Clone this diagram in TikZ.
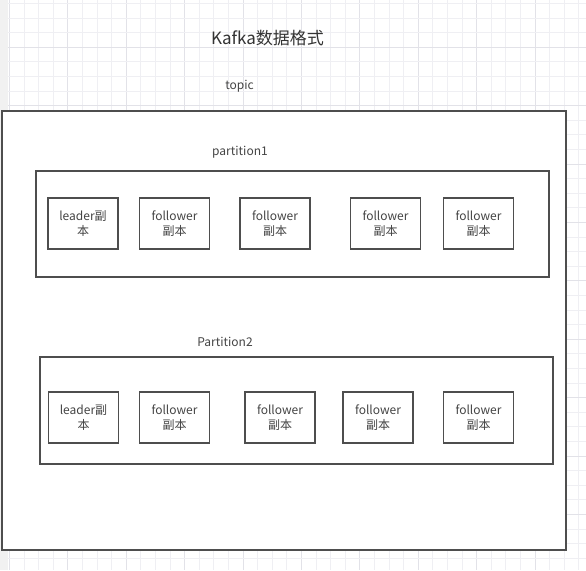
\documentclass[tikz,border=0pt]{standalone}
\usepackage{fontspec}
\setmainfont{Noto Sans CJK SC}
\definecolor{linec}{HTML}{4E4E4E}
\definecolor{textc}{HTML}{444444}
\definecolor{titlec}{HTML}{333333}
\definecolor{gridminor}{HTML}{EFEFF3}
\definecolor{gridmajor}{HTML}{E2E2E8}
\definecolor{stripc}{HTML}{F1F1F1}
\begin{document}
\begin{tikzpicture}[x=1pt,y=-1pt,
  frame/.style={draw=linec,line width=1.5pt,fill=white,inner sep=0pt},
  replica/.style={draw=linec,line width=1.5pt,fill=white,inner sep=0pt,
    minimum width=70pt,minimum height=51pt,align=center,text=textc,
    font=\fontsize{12}{15.5}\selectfont},
  lbl/.style={text=textc,inner sep=0pt,font=\fontsize{12}{14}\selectfont}]
\useasboundingbox (0,0) rectangle (586,570);
\fill[white] (0,0) rectangle (586,570);
% grid
\foreach \k in {0,...,39}{
  \pgfmathtruncatemacro\m{mod(\k,4)}
  \ifnum\m=0
    \draw[gridmajor,line width=0.8pt] ({9.3+14.6*\k},0) -- ({9.3+14.6*\k},570);
  \else
    \draw[gridminor,line width=0.8pt] ({9.3+14.6*\k},0) -- ({9.3+14.6*\k},570);
  \fi}
\foreach \k in {0,...,38}{
  \pgfmathtruncatemacro\m{mod(\k,4)}
  \ifnum\m=3
    \draw[gridmajor,line width=0.8pt] (0,{3.3+14.6*\k}) -- (586,{3.3+14.6*\k});
  \else
    \draw[gridminor,line width=0.8pt] (0,{3.3+14.6*\k}) -- (586,{3.3+14.6*\k});
  \fi}
\fill[stripc] (0,0) rectangle (8,570);
% title
\node[text=titlec,inner sep=0pt,font=\fontsize{17}{20}\selectfont] (title) at (267.5,38) {Kafka数据格式};
\node[lbl] (topiclbl) at (239.5,86) {topic};
% outer topic frame
\node[frame,minimum width=564pt,minimum height=439pt] (topic) at (284,330.5) {};
% partition 1
\node[lbl] (p1lbl) at (240,152) {partition1};
\node[frame,minimum width=513pt,minimum height=106pt] (p1) at (292.5,224) {};
\node[replica] (p1a) at (83,223.5) {leader副\\本};
\node[replica] (p1b) at (174.5,223.5) {follower\\副本};
\node[replica] (p1c) at (275,223.5) {follower\\副本};
\node[replica] (p1d) at (385.5,223.5) {follower\\副本};
\node[replica] (p1e) at (478.5,223.5) {follower\\副本};
% partition 2
\node[lbl] (p2lbl) at (225,342) {Partition2};
\node[frame,minimum width=513pt,minimum height=107pt] (p2) at (296.5,410.5) {};
\node[replica] (p2a) at (83.5,417.5) {leader副\\本};
\node[replica] (p2b) at (174.5,417.5) {follower\\副本};
\node[replica] (p2c) at (280,417.5) {follower\\副本};
\node[replica] (p2d) at (378,417.5) {follower\\副本};
\node[replica] (p2e) at (478.5,417.5) {follower\\副本};
\end{tikzpicture}
\end{document}
